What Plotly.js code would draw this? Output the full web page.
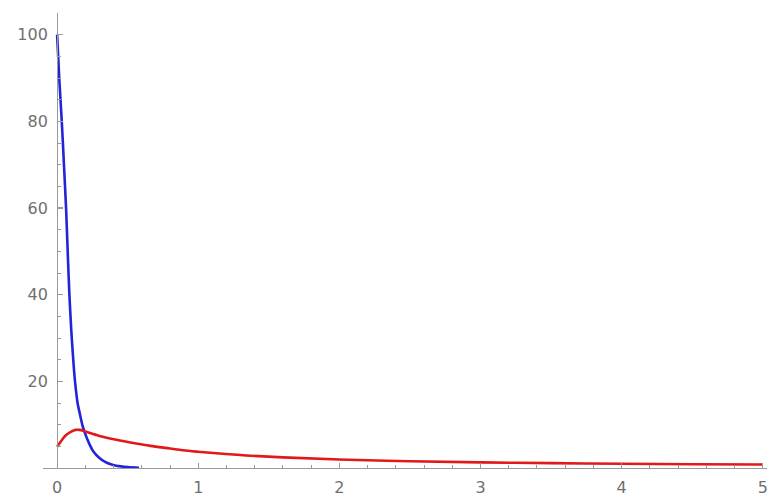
<!DOCTYPE html>
<html>
<head>
<meta charset="utf-8">
<script src="https://cdn.plot.ly/plotly-3.0.1.min.js"></script>
<style>html,body{margin:0;padding:0;background:#fff;}#chart{width:775px;height:500px;}</style>
</head>
<body>
<div id="chart"></div>
<script>
// Blue curve (fast decay)
var blueX = [0, 0.015, 0.033, 0.05, 0.064, 0.076, 0.087, 0.1, 0.11, 0.12, 0.128, 0.145, 0.163, 0.18, 0.198, 0.225, 0.257, 0.3, 0.34, 0.375, 0.42, 0.5, 0.58];
var blueY = [100, 90, 80, 69, 59.5, 49, 40, 32, 27, 22.5, 19.6, 15, 12.2, 9.8, 8.0, 5.8, 3.8, 2.3, 1.4, 0.9, 0.5, 0.2, 0.05];
// Red curve (rise then slow decay)
var redX = [0, 0.03, 0.06, 0.1, 0.13, 0.16, 0.2, 0.3, 0.42, 0.55, 0.66, 0.8, 0.89, 1.0, 1.13, 1.34, 1.6, 2.0, 2.5, 3.0, 3.5, 4.0, 4.5, 5.0];
var redY = [4.9, 6.3, 7.5, 8.4, 8.8, 8.8, 8.4, 7.4, 6.5, 5.7, 5.1, 4.5, 4.1, 3.75, 3.4, 2.9, 2.45, 1.95, 1.55, 1.3, 1.12, 0.98, 0.88, 0.8];
var xTicks = [0, 1, 2, 3, 4, 5];
var yTicks = [20, 40, 60, 80, 100];

var axisColor = '#9a9a9a';
var fontSpec = {family: 'DejaVu Sans, sans-serif', size: 16, color: '#707070'};

var traces = [
  {x: blueX, y: blueY, mode: 'lines', line: {color: 'rgb(35,35,215)', width: 2.6, shape: 'spline', smoothing: 0.8}, hoverinfo: 'skip'},
  {x: redX, y: redY, mode: 'lines', line: {color: 'rgb(225,25,25)', width: 2.6, shape: 'spline'}, hoverinfo: 'skip'}
];

var xmin = -0.1, xmax = 5.03;
var layout = {
  width: 775, height: 500,
  margin: {l: 43, r: 8, t: 13, b: 32, pad: 0},
  showlegend: false,
  paper_bgcolor: '#ffffff', plot_bgcolor: '#ffffff',
  xaxis: {
    range: [xmin, xmax], showgrid: false, zeroline: false,
    showline: true, linecolor: axisColor, linewidth: 1.2,
    tickmode: 'array', tickvals: xTicks, ticktext: xTicks.map(String),
    ticks: 'inside', ticklen: 5, tickcolor: axisColor, tickwidth: 1.2,
    minor: {tickmode: 'linear', tick0: 0, dtick: 0.2, ticks: 'inside', ticklen: 3, tickcolor: axisColor, tickwidth: 1},
    tickfont: fontSpec, ticklabelstandoff: 5
  },
  yaxis: {
    range: [0, 105], showgrid: false, zeroline: false,
    anchor: 'free', position: (0 - xmin) / (xmax - xmin),
    showline: true, linecolor: axisColor, linewidth: 1.2,
    tickmode: 'array', tickvals: yTicks, ticktext: yTicks.map(String),
    ticks: 'inside', ticklen: 5, tickcolor: axisColor, tickwidth: 1.2,
    minor: {tickmode: 'linear', tick0: 0, dtick: 5, ticks: 'inside', ticklen: 3, tickcolor: axisColor, tickwidth: 1},
    tickfont: fontSpec, ticklabelstandoff: 6
  }
};
Plotly.newPlot('chart', traces, layout, {staticPlot: true, displayModeBar: false});
</script>
</body>
</html>
